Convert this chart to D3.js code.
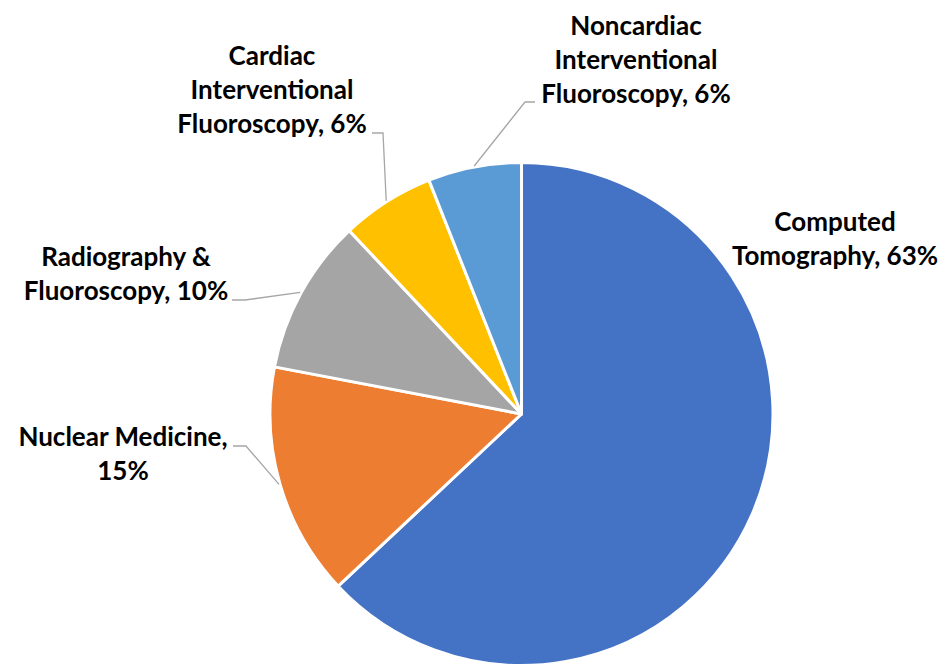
<!DOCTYPE html>
<html>
<head>
<meta charset="utf-8">
<script src="https://cdn.jsdelivr.net/npm/d3@7/dist/d3.min.js"></script>
<style>
  html, body { margin: 0; padding: 0; background: #ffffff; }
  svg { display: block; }
  .lbl { font-family: Lato, "Open Sans", sans-serif; font-weight: 700; fill: #000; }
</style>
</head>
<body>
<svg id="chart" width="943" height="668"></svg>
<script>
// Share of imaging dose by modality (percent), clockwise from 12 o'clock
const categories = [
  "Computed Tomography",
  "Nuclear Medicine",
  "Radiography & Fluoroscopy",
  "Cardiac Interventional Fluoroscopy",
  "Noncardiac Interventional Fluoroscopy"
];
const values = [63, 15, 10, 6, 6];
const labelLines = [
  ["Computed", "Tomography, 63%"],
  ["Nuclear Medicine,", "15%"],
  ["Radiography &", "Fluoroscopy, 10%"],
  ["Cardiac", "Interventional", "Fluoroscopy, 6%"],
  ["Noncardiac", "Interventional", "Fluoroscopy, 6%"]
];
const palette = ["#4472C4", "#ED7D31", "#A5A5A5", "#FFC000", "#5B9BD5"];

// Layout for the label blocks: centre x, first baseline, and leader elbow/end
const labelLayout = [
  { x: 835, y: 231, leader: null },
  { x: 123, y: 446, leader: [[246, 446], [233, 446]] },
  { x: 126, y: 266, leader: [[245, 300], [232, 300]] },
  { x: 272, y: 65,  leader: [[383, 133], [372, 133]] },
  { x: 636, y: 35,  leader: [[525, 102], [535, 102]] }
];

const svg = d3.select("#chart");
const cx = 521.5, cy = 414, radius = 251.5;
const lineGap = 34;

const color = d3.scaleOrdinal().domain(categories).range(palette);

const pie = d3.pie().value(d => d.value).sort(null);
const arc = d3.arc().innerRadius(0).outerRadius(radius);

const data = categories.map((c, i) => ({ name: c, value: values[i], i }));
const arcs = pie(data);

const g = svg.append("g").attr("transform", `translate(${cx},${cy})`);

g.selectAll("path.slice")
  .data(arcs)
  .join("path")
  .attr("class", "slice")
  .attr("d", arc)
  .attr("fill", d => color(d.data.name))
  .attr("stroke", "#ffffff")
  .attr("stroke-width", 3)
  .attr("stroke-linejoin", "round");

// Leader lines from the slice edge (at the mid angle) to the label
const leaderArc = d3.arc().innerRadius(radius + 1).outerRadius(radius + 1);
arcs.forEach((a, i) => {
  const lay = labelLayout[i];
  if (!lay.leader) return;
  const [sx, sy] = leaderArc.centroid(a);
  const pts = [[sx + cx, sy + cy]].concat(lay.leader);
  svg.append("path")
    .attr("d", d3.line()(pts))
    .attr("fill", "none")
    .attr("stroke", "#A6A6A6")
    .attr("stroke-width", 1.3);
});

// Data labels
arcs.forEach((a, i) => {
  const lay = labelLayout[i];
  const t = svg.append("text")
    .attr("class", "lbl")
    .attr("text-anchor", "middle")
    .attr("font-size", 26);
  labelLines[i].forEach((line, k) => {
    t.append("tspan")
      .attr("x", lay.x)
      .attr("y", lay.y + k * lineGap)
      .text(line);
  });
});
</script>
</body>
</html>
